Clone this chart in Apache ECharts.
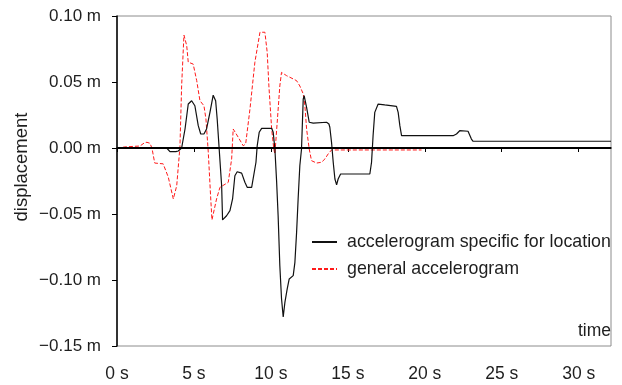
<!DOCTYPE html>
<html>
<head>
<meta charset="utf-8">
<script src="https://cdn.jsdelivr.net/npm/echarts@6/dist/echarts.min.js"></script>
<style>
  html, body { margin: 0; padding: 0; background: #fff; }
  #chart { width: 622px; height: 385px; }
</style>
</head>
<body>
<div id="chart"></div>
<script>
// Displacement time histories (seconds, metres)
const seriesNames = ['accelerogram specific for location', 'general accelerogram'];

const specificTime = [0, 3.23, 3.44, 3.83, 3.98, 4.2, 4.42, 4.63, 4.85, 5.06, 5.28, 5.44, 5.65, 5.82, 6.04, 6.25, 6.41, 6.51, 6.64, 6.8, 6.86, 7.12, 7.34, 7.51, 7.66, 7.81, 8.1, 8.31, 8.46, 8.75, 8.85, 9.03, 9.11, 9.24, 9.4, 10.05, 10.15, 10.26, 10.37, 10.47, 10.58, 10.69, 10.8, 10.91, 11.06, 11.19, 11.45, 11.56, 11.67, 11.77, 11.88, 11.99, 12.1, 12.16, 12.32, 12.49, 12.75, 13.62, 13.77, 13.83, 13.94, 14.05, 14.16, 14.27, 14.37, 14.53, 16.43, 16.54, 16.64, 16.75, 16.97, 17.4, 18.16, 18.27, 18.38, 18.49, 21.84, 22.06, 22.27, 22.81, 23.03, 23.14, 32.1];
const specificDisp = [0, 0, -0.0028, -0.0028, -0.0023, 0, 0.0144, 0.0333, 0.0358, 0.032, 0.0169, 0.0106, 0.0106, 0.0144, 0.027, 0.040, 0.0358, 0.022, -0.0008, -0.0286, -0.0545, -0.0513, -0.0475, -0.0386, -0.021, -0.018, -0.019, -0.026, -0.0298, -0.0298, -0.0286, -0.0108, 0.0017, 0.0119, 0.0149, 0.0149, 0.0119, -0.0008, -0.025, -0.0513, -0.089, -0.114, -0.128, -0.117, -0.1068, -0.0992, -0.0967, -0.0866, -0.0639, -0.0386, -0.0134, -0.0008, 0.037, 0.0396, 0.0308, 0.0195, 0.0189, 0.0195, 0.0182, 0.0157, 0.0043, -0.0108, -0.0235, -0.028, -0.0235, -0.0197, -0.0197, -0.0108, 0.0093, 0.027, 0.0333, 0.0326, 0.0316, 0.027, 0.0169, 0.0093, 0.0093, 0.0106, 0.0131, 0.0127, 0.0068, 0.0051, 0.0051];

const generalTime = [0, 0.6, 1.49, 1.82, 1.95, 2.14, 2.27, 2.45, 3.0, 3.33, 3.66, 3.88, 4.09, 4.2, 4.35, 4.53, 4.63, 4.74, 4.95, 5.18, 5.39, 5.65, 5.78, 5.93, 6.08, 6.17, 6.47, 6.69, 7.23, 7.45, 7.55, 7.88, 8.2, 8.36, 8.64, 8.96, 9.29, 9.4, 9.61, 9.76, 9.87, 10.05, 10.19, 10.26, 10.41, 10.58, 10.69, 11.02, 11.23, 11.67, 11.88, 12.1, 12.21, 12.32, 12.49, 12.64, 12.97, 13.29, 13.51, 13.72, 13.94, 19.79];
const generalDisp = [0, 0.0009, 0.0015, 0.0042, 0.0043, 0.0036, 0, -0.0114, -0.012, -0.022, -0.0386, -0.0286, 0.0008, 0.047, 0.0856, 0.0775, 0.065, 0.0636, 0.0636, 0.051, 0.0358, 0.032, 0.022, -0.003, -0.036, -0.0545, -0.0386, -0.0298, -0.026, -0.0083, 0.0144, 0.0081, 0.0017, 0.003, 0.0295, 0.065, 0.0877, 0.0889, 0.0877, 0.0725, 0.047, 0.0144, -0.0008, -0.0045, 0.0195, 0.047, 0.0573, 0.0548, 0.0536, 0.051, 0.047, 0.041, 0.032, 0.0144, -0.0008, -0.0096, -0.0114, -0.0108, -0.0083, -0.0045, -0.0015, -0.0015];

// Axis ticks
const timeTicks = [0, 5, 10, 15, 20, 25, 30];
const dispTicks = [-0.15, -0.10, -0.05, 0.00, 0.05, 0.10];

const toPairs = (xs, ys) => xs.map((x, i) => [x, ys[i]]);
const FONT = '"Liberation Sans", Arial, sans-serif';
const TEXT = '#1e1e1e';

const chart = echarts.init(document.getElementById('chart'), null, { renderer: 'canvas' });

chart.setOption({
  animation: false,
  backgroundColor: '#fff',
  grid: {
    left: 117, right: 11, top: 16, bottom: 39,
    show: true, borderColor: '#8c8c8c', borderWidth: 1, backgroundColor: 'transparent'
  },
  xAxis: {
    type: 'value',
    min: timeTicks[0],
    max: 32.1,
    interval: 5,
    splitLine: { show: false },
    axisLine: { lineStyle: { color: '#000', width: 1.5 } },
    axisTick: { length: 4, lineStyle: { color: '#000' } },
    axisLabel: {
      showMaxLabel: false,
      margin: 19,
      color: TEXT, fontFamily: FONT, fontSize: 17.5,
      formatter: v => timeTicks.includes(Math.round(v * 1000) / 1000) ? Math.round(v) + ' s' : ''
    }
  },
  yAxis: {
    type: 'value',
    min: dispTicks[0],
    max: dispTicks[dispTicks.length - 1],
    interval: 0.05,
    offset: 2,
    splitLine: { show: false },
    axisLine: { lineStyle: { color: '#000', width: 1.5 } },
    axisTick: { length: 5, lineStyle: { color: '#000' } },
    axisLabel: {
      margin: 14,
      color: TEXT, fontFamily: FONT, fontSize: 17,
      formatter: v => {
        const r = Math.abs(v) < 1e-9 ? 0 : v;
        return r.toFixed(2).replace('-', '\u2212') + ' m';
      }
    }
  },
  legend: {
    orient: 'vertical',
    left: 311,
    top: 233,
    padding: 0,
    itemWidth: 25,
    itemHeight: 14,
    itemGap: 9,
    itemStyle: { opacity: 0 },
    textStyle: { color: TEXT, fontFamily: FONT, fontSize: 17.8, lineHeight: 17, padding: [0, 0, 0, 5] },
    data: seriesNames
  },
  graphic: [
    {
      type: 'text',
      x: 22, y: 167,
      rotation: Math.PI / 2,
      style: {
        text: 'displacement', fill: TEXT, font: '18.5px ' + FONT,
        align: 'center', verticalAlign: 'middle'
      }
    },
    {
      type: 'text',
      x: 611, y: 331,
      style: {
        text: 'time', fill: TEXT, font: '17.5px ' + FONT,
        align: 'right', verticalAlign: 'middle'
      }
    }
  ],
  series: [
    {
      name: seriesNames[0],
      type: 'line',
      data: toPairs(specificTime, specificDisp),
      showSymbol: false,
      symbol: 'none',
      lineStyle: { color: '#111', width: 1.2 },
      itemStyle: { color: '#111' },
      z: 3,
      markLine: {
        silent: true,
        symbol: ['none', 'none'],
        label: { show: false },
        lineStyle: { color: '#000', width: 2, type: 'solid' },
        data: [{ yAxis: 0 }]
      }
    },
    {
      name: seriesNames[1],
      type: 'line',
      data: toPairs(generalTime, generalDisp),
      showSymbol: false,
      symbol: 'none',
      lineStyle: { color: '#ff1a1a', width: 1, type: [4, 2] },
      itemStyle: { color: '#ff1a1a' },
      z: 2
    }
  ]
});
</script>
</body>
</html>
